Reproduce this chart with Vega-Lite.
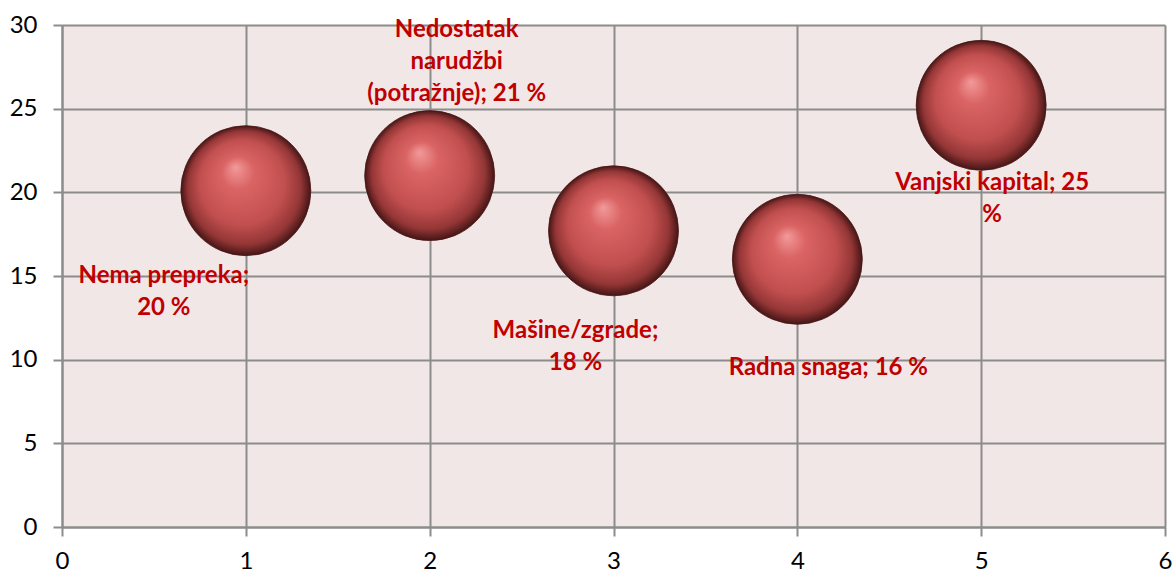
{
  "$schema": "https://vega.github.io/schema/vega-lite/v6.json",
  "autosize": "none",
  "width": 1103,
  "height": 502,
  "padding": {"left": 62, "top": 25, "right": 11, "bottom": 45},
  "background": "white",
  "config": {
    "view": {"fill": "#F2E7E7", "stroke": null},
    "font": "Lato",
    "axis": {
      "grid": true,
      "gridColor": "#8C8C8C",
      "gridWidth": 2,
      "gridOpacity": 1,
      "domainColor": "#8C8C8C",
      "domainWidth": 2,
      "tickColor": "#8C8C8C",
      "tickWidth": 2,
      "tickSize": 9,
      "labelFont": "Lato",
      "labelFontSize": 24,
      "labelColor": "#000000",
      "title": null
    }
  },
  "data": {
    "values": [
      {"x": 1, "y": 20.1, "label": "Nema prepreka;\n20 %"},
      {"x": 2, "y": 21.0, "label": "Nedostatak\nnarudžbi\n(potražnje); 21 %"},
      {"x": 3, "y": 17.7, "label": "Mašine/zgrade;\n18 %"},
      {"x": 4, "y": 16.0, "label": "Radna snaga; 16 %"},
      {"x": 5, "y": 25.2, "label": "Vanjski kapital; 25\n%"}
    ]
  },
  "encoding": {
    "x": {"field": "x", "type": "quantitative", "scale": {"domain": [0, 6], "nice": false}, "axis": {"values": [0,1,2,3,4,5,6], "labelPadding": 13, "labelFlush": false}},
    "y": {"field": "y", "type": "quantitative", "scale": {"domain": [0, 30], "nice": false}, "axis": {"values": [0,5,10,15,20,25,30], "labelPadding": 16, "labelFlush": false}}
  },
  "layer": [
    {
      "mark": {
        "type": "point",
        "shape": "circle",
        "filled": true,
        "size": 16900,
        "opacity": 1,
        "stroke": "#4A1515",
        "strokeWidth": 0.8,
        "fill": {
          "gradient": "radial",
          "x1": 0.42, "y1": 0.32, "r1": 0,
          "x2": 0.5, "y2": 0.5, "r2": 0.5,
          "stops": [
            {"offset": 0, "color": "#F29A9A"},
            {"offset": 0.25, "color": "#DA6464"},
            {"offset": 0.65, "color": "#C24F4F"},
            {"offset": 0.87, "color": "#943636"},
            {"offset": 1, "color": "#451515"}
          ]
        }
      }
    },
    {
      "transform": [{"filter": "datum.x == 1"}],
      "mark": {"type": "text", "font": "Lato", "fontSize": 24, "fontWeight": "bold", "color": "#C00000", "align": "center", "baseline": "top", "lineBreak": "\n", "lineHeight": 32, "dx": -82, "dy": 73},
      "encoding": {"text": {"field": "label"}}
    },
    {
      "transform": [{"filter": "datum.x == 2"}],
      "mark": {"type": "text", "font": "Lato", "fontSize": 24, "fontWeight": "bold", "color": "#C00000", "align": "center", "baseline": "top", "lineBreak": "\n", "lineHeight": 32, "dx": 27, "dy": -158},
      "encoding": {"text": {"field": "label"}}
    },
    {
      "transform": [{"filter": "datum.x == 3"}],
      "mark": {"type": "text", "font": "Lato", "fontSize": 24, "fontWeight": "bold", "color": "#C00000", "align": "center", "baseline": "top", "lineBreak": "\n", "lineHeight": 32, "dx": -38, "dy": 88},
      "encoding": {"text": {"field": "label"}}
    },
    {
      "transform": [{"filter": "datum.x == 4"}],
      "mark": {"type": "text", "font": "Lato", "fontSize": 24, "fontWeight": "bold", "color": "#C00000", "align": "center", "baseline": "top", "lineBreak": "\n", "lineHeight": 32, "dx": 31, "dy": 97},
      "encoding": {"text": {"field": "label"}}
    },
    {
      "transform": [{"filter": "datum.x == 5"}],
      "mark": {"type": "text", "font": "Lato", "fontSize": 24, "fontWeight": "bold", "color": "#C00000", "align": "center", "baseline": "top", "lineBreak": "\n", "lineHeight": 32, "dx": 11, "dy": 66},
      "encoding": {"text": {"field": "label"}}
    }
  ]
}
